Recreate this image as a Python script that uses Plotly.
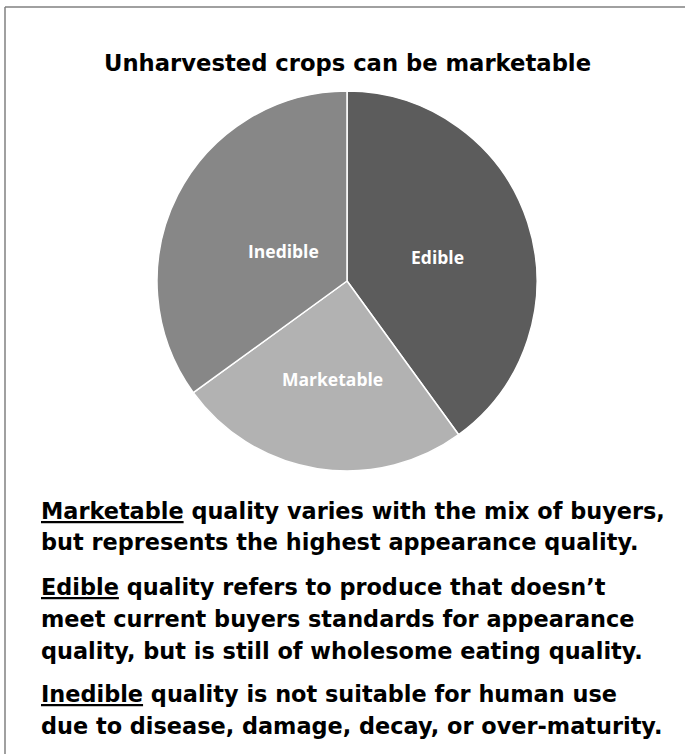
import plotly.graph_objects as go

labels = ["Edible", "Marketable", "Inedible"]
values = [40, 25, 35]
colors = ["#5c5c5c", "#b2b2b2", "#878787"]
label_pos = [(437, 257), (332, 379), (283, 251)]  # slice label centres (px)

title_text = "Unharvested crops can be marketable"
body_lines = [
    "<u>Marketable</u> quality varies with the mix of buyers,",
    "but represents the highest appearance quality.",
    "<u>Edible</u> quality refers to produce that doesn\u2019t",
    "meet current buyers standards for appearance",
    "quality, but is still of wholesome eating quality.",
    "<u>Inedible</u> quality is not suitable for human use",
    "due to disease, damage, decay, or over-maturity.",
]
body_baselines = [518, 549, 594, 626, 658, 701, 733]

W, H = 685, 754
FONT = "DejaVu Sans, sans-serif"

fig = go.Figure(go.Pie(
    labels=labels, values=values, sort=False, direction="clockwise", rotation=0,
    marker=dict(colors=colors, line=dict(color="white", width=1.5)),
    textinfo="none", hoverinfo="label+percent", showlegend=False,
    domain=dict(x=[(347 - 190) / W, (347 + 190) / W], y=[1 - 471 / H, 1 - 91 / H]),
))

annotations = [dict(
    text="<b>" + title_text + "</b>", x=347 / W, y=1 - 63 / H, xref="paper", yref="paper",
    xanchor="center", yanchor="middle", showarrow=False,
    font=dict(family=FONT, size=22.7, color="black"),
)]
for lab, (px, py) in zip(labels, label_pos):
    annotations.append(dict(
        text="<b>" + lab + "</b>", x=px / W, y=1 - py / H, xref="paper", yref="paper",
        xanchor="center", yanchor="middle", showarrow=False,
        font=dict(family="Open Sans, sans-serif", size=17.5, color="white"),
    ))
fs = 22.4
for line, bl in zip(body_lines, body_baselines):
    annotations.append(dict(
        text="<b>" + line + "</b>", x=39 / W, y=1 - (bl - 0.33 * fs) / H,
        xref="paper", yref="paper", xanchor="left", yanchor="middle", showarrow=False,
        font=dict(family=FONT, size=fs, color="black"),
    ))

shapes = [
    dict(type="line", xref="paper", yref="paper", x0=5 / W, y0=1 - 7 / H, x1=1.01, y1=1 - 7 / H,
         line=dict(color="#808080", width=1.5)),
    dict(type="line", xref="paper", yref="paper", x0=5 / W, y0=1 - 7 / H, x1=5 / W, y1=-0.01,
         line=dict(color="#808080", width=1.5)),
]

fig.update_layout(
    width=W, height=H, margin=dict(l=0, r=0, t=0, b=0),
    paper_bgcolor="white", plot_bgcolor="white",
    annotations=annotations, shapes=shapes,
)
fig.write_html("out.html", config={"displayModeBar": False},
               post_script="document.body.style.margin='0';")
